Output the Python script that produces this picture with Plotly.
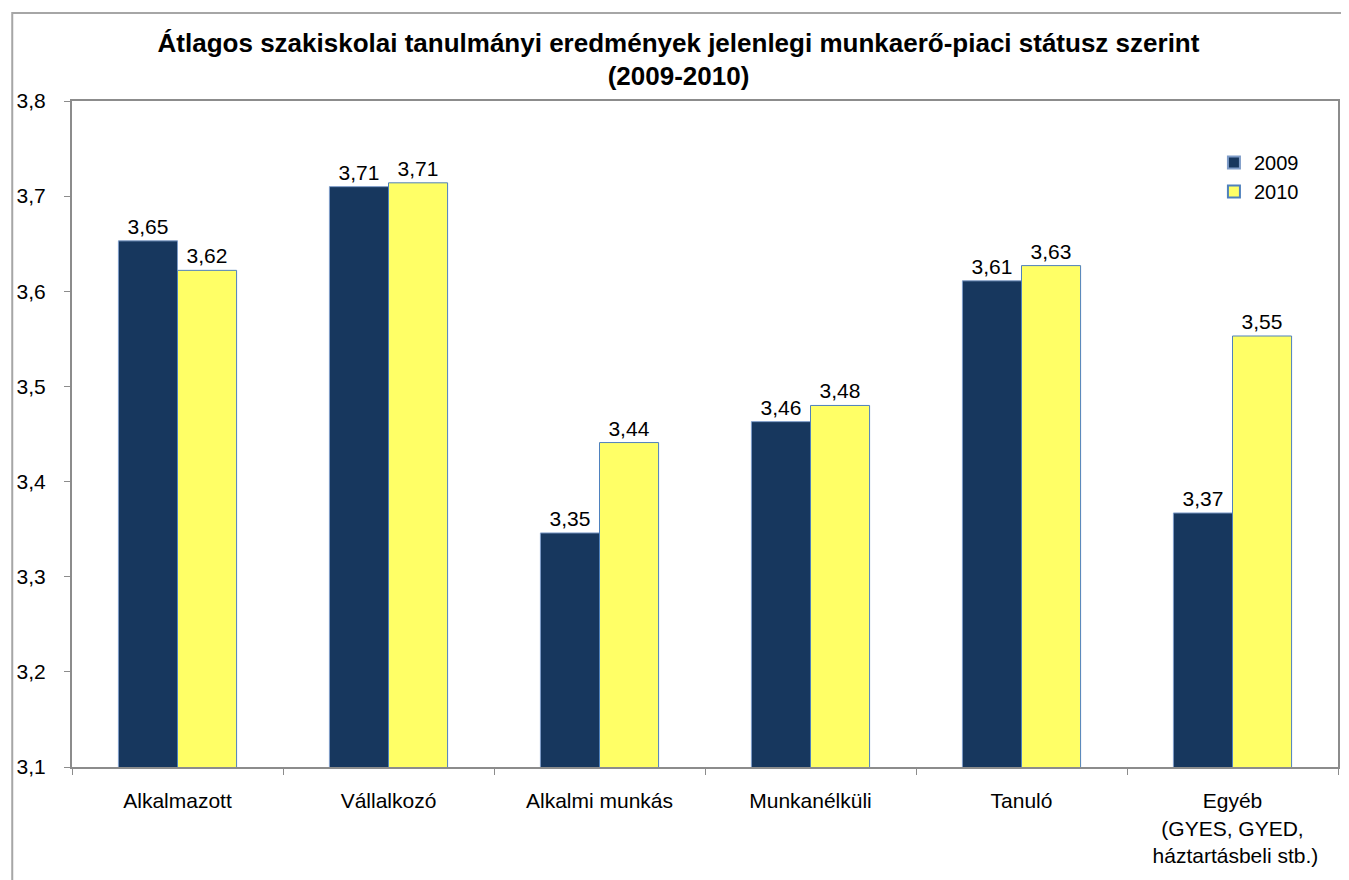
import plotly.graph_objects as go

categories = [
    "Alkalmazott",
    "Vállalkozó",
    "Alkalmi munkás",
    "Munkanélküli",
    "Tanuló",
    "Egyéb<br>(GYES, GYED,<br> háztartásbeli stb.)",
]
values_2009 = [3.653, 3.710, 3.346, 3.463, 3.611, 3.367]
values_2010 = [3.622, 3.714, 3.441, 3.480, 3.627, 3.553]
y_ticks = [3.1, 3.2, 3.3, 3.4, 3.5, 3.6, 3.7, 3.8]

FONT = "Liberation Sans, Arial, sans-serif"
GRAY = "#8c8c8c"

fig = go.Figure()
fig.add_trace(go.Bar(
    name="2009", x=categories, y=values_2009,
    marker=dict(color="#17375E", line=dict(color="#7E9CC8", width=1)),
    texttemplate="%{y:.2f}", textposition="outside",
    textfont=dict(size=21, color="black"), cliponaxis=False,
))
fig.add_trace(go.Bar(
    name="2010", x=categories, y=values_2010,
    marker=dict(color="#FFFF66", line=dict(color="#4F81BD", width=1)),
    texttemplate="%{y:.2f}", textposition="outside",
    textfont=dict(size=21, color="black"), cliponaxis=False,
))

# the page body adds an 8px margin, so the figure is sized and offset for it
fig.update_layout(
    width=1341, height=872,
    separators=", ",
    font=dict(family=FONT, size=21, color="black"),
    plot_bgcolor="white", paper_bgcolor="white",
    margin=dict(l=60, r=9, t=93, b=113),
    barmode="group", bargap=0.44, bargroupgap=0,
    title=dict(
        text="<b>Átlagos szakiskolai tanulmányi eredmények jelenlegi munkaerő-piaci státusz szerint<br>(2009-2010)</b>",
        x=0.5, xanchor="center", y=0.95, yanchor="middle",
        font=dict(size=26, family=FONT),
    ),
    legend=dict(
        x=0.902, y=0.937, xanchor="left", yanchor="top",
        font=dict(size=20), tracegroupgap=0, itemsizing="constant",
        bgcolor="rgba(0,0,0,0)",
    ),
    showlegend=True,
)
fig.update_yaxes(
    range=[3.1, 3.8], tickvals=y_ticks, tickformat=".1f",
    showgrid=False, zeroline=False,
    showline=True, linecolor=GRAY, linewidth=2, mirror=True,
    ticks="outside", ticklen=6, tickcolor=GRAY, ticklabelstandoff=14,
)
fig.update_xaxes(
    showgrid=False, showline=True, linecolor=GRAY, linewidth=2, mirror=True,
    ticks="outside", tickson="boundaries", ticklen=6, tickcolor=GRAY,
    ticklabelstandoff=14,
)

# outer chart frame
fig.add_shape(
    type="rect", xref="paper", yref="paper",
    x0=-0.0472, x1=1.0047, y0=-0.2, y1=1.132,
    line=dict(color="#a6a6a6", width=2), fillcolor="rgba(0,0,0,0)", layer="below",
)

fig.write_html("out.html")
